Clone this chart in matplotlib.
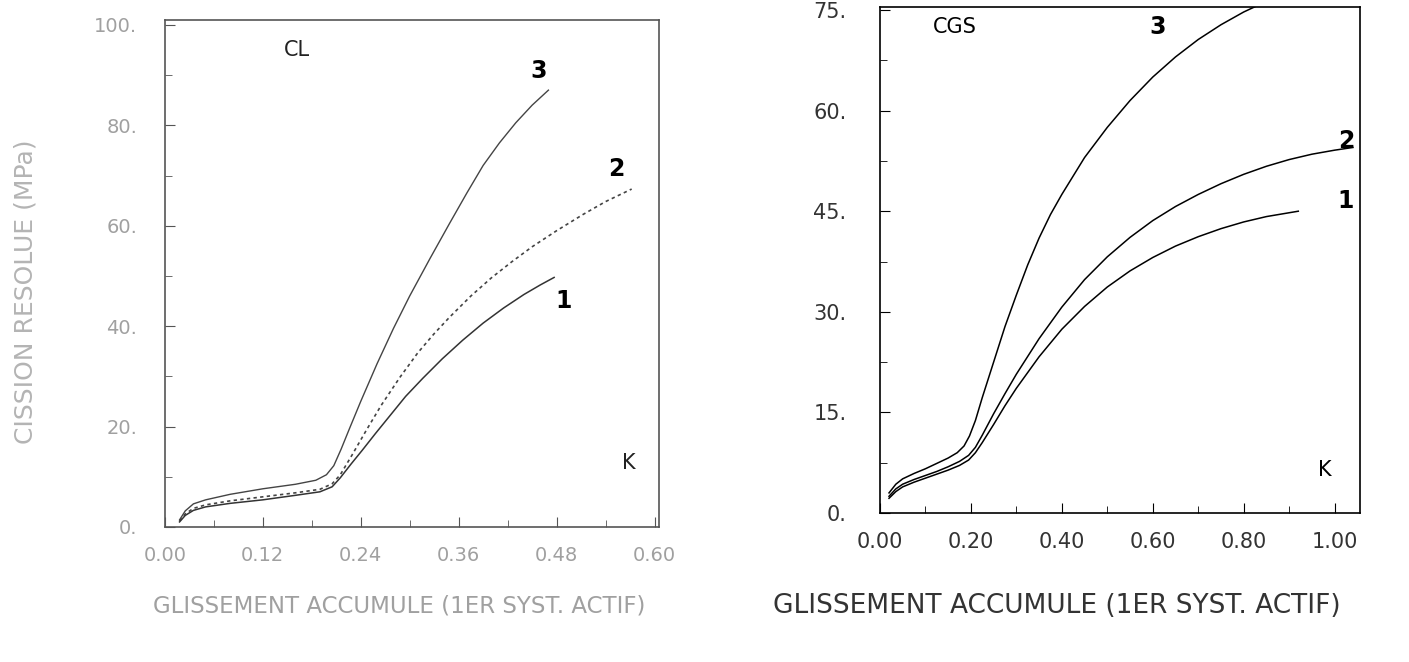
import matplotlib
matplotlib.use('Agg')
import matplotlib.pyplot as plt
from matplotlib.ticker import MultipleLocator, FixedLocator, FixedFormatter

plt.rcParams['font.family'] = ['DejaVu Sans']

# panneau gauche : CL
cl_x3 = [0.018, 0.025, 0.035, 0.05, 0.08, 0.12, 0.16, 0.185, 0.198, 0.207, 0.216, 0.226, 0.24,
         0.26, 0.28, 0.30, 0.325, 0.349, 0.37, 0.39, 0.41, 0.43, 0.45, 0.47]
cl_y3 = [1.4, 3.2, 4.6, 5.4, 6.5, 7.6, 8.5, 9.3, 10.4, 12.2, 15.5, 19.5, 25.0,
         32.5, 39.5, 46.0, 53.5, 60.5, 66.5, 72.0, 76.5, 80.5, 84.0, 87.0]
cl_x2 = [0.018, 0.025, 0.035, 0.05, 0.08, 0.12, 0.16, 0.19, 0.205, 0.215, 0.23, 0.247, 0.265,
         0.288, 0.31, 0.33, 0.349, 0.375, 0.40, 0.425, 0.45, 0.48, 0.512, 0.54, 0.572]
cl_y2 = [1.2, 2.6, 3.7, 4.4, 5.2, 6.0, 6.8, 7.5, 8.6, 10.4, 14.5, 19.3, 24.2,
         29.8, 34.7, 38.5, 41.8, 46.0, 49.6, 52.8, 55.8, 59.0, 62.2, 64.8, 67.3]
cl_x1 = [0.018, 0.025, 0.035, 0.05, 0.08, 0.12, 0.16, 0.19, 0.205, 0.215, 0.228, 0.242, 0.258,
         0.275, 0.295, 0.316, 0.34, 0.365, 0.39, 0.415, 0.44, 0.46, 0.477]
cl_y1 = [1.0, 2.3, 3.3, 4.0, 4.7, 5.4, 6.3, 7.0, 8.0, 9.8, 12.5, 15.3, 18.6,
         22.0, 26.0, 29.6, 33.5, 37.2, 40.6, 43.6, 46.3, 48.2, 49.7]
cl_xticks = [0.00, 0.12, 0.24, 0.36, 0.48, 0.60]
cl_xlabels = ['0.00', '0.12', '0.24', '0.36', '0.48', '0.60']
cl_yticks = [0, 20, 40, 60, 80, 100]
cl_ylabels = ['0.', '20.', '40.', '60.', '80.', '100.']

# panneau droit : CGS
cgs_x3 = [0.02, 0.035, 0.05, 0.075, 0.10, 0.125, 0.15, 0.17, 0.185, 0.197, 0.21, 0.225, 0.25,
          0.275, 0.30, 0.325, 0.35, 0.375, 0.40, 0.45, 0.50, 0.55, 0.60, 0.65, 0.70, 0.75, 0.80, 0.86]
cgs_y3 = [3.0, 4.3, 5.1, 5.9, 6.6, 7.4, 8.2, 9.0, 10.0, 11.5, 13.8, 17.2, 22.5,
          27.8, 32.5, 37.0, 41.0, 44.5, 47.5, 53.0, 57.5, 61.5, 65.0, 68.0, 70.6, 72.8, 74.7, 76.6]
cgs_x2 = [0.02, 0.035, 0.05, 0.075, 0.10, 0.125, 0.15, 0.175, 0.195, 0.21, 0.225, 0.25, 0.275,
          0.30, 0.35, 0.40, 0.45, 0.50, 0.55, 0.60, 0.65, 0.70, 0.75, 0.80, 0.85, 0.90, 0.95, 1.00, 1.04]
cgs_y2 = [2.5, 3.6, 4.3, 5.0, 5.6, 6.2, 6.9, 7.7, 8.6, 9.8, 11.6, 14.8, 17.8,
          20.7, 26.0, 30.7, 34.8, 38.2, 41.1, 43.6, 45.7, 47.5, 49.1, 50.5, 51.7, 52.7, 53.5, 54.1, 54.5]
cgs_x1 = [0.02, 0.035, 0.05, 0.075, 0.10, 0.125, 0.15, 0.175, 0.195, 0.21, 0.225, 0.25, 0.275,
          0.30, 0.35, 0.40, 0.45, 0.50, 0.55, 0.60, 0.65, 0.70, 0.75, 0.80, 0.85, 0.92]
cgs_y1 = [2.2, 3.2, 3.9, 4.6, 5.2, 5.8, 6.4, 7.1, 7.9, 9.0, 10.5, 13.2, 16.0,
          18.6, 23.3, 27.4, 30.8, 33.7, 36.1, 38.1, 39.8, 41.2, 42.4, 43.4, 44.2, 45.0]
cgs_xticks = [0.0, 0.2, 0.4, 0.6, 0.8, 1.0]
cgs_xlabels = ['0.00', '0.20', '0.40', '0.60', '0.80', '1.00']
cgs_yticks = [0, 15, 30, 45, 60, 75]
cgs_ylabels = ['0.', '15.', '30.', '45.', '60.', '75.']

xlabel = 'GLISSEMENT ACCUMULE (1ER SYST. ACTIF)'
ylabel = 'CISSION RESOLUE (MPa)'

fig = plt.figure(figsize=(14.09, 6.62), dpi=100)
ax1 = fig.add_axes([0.117, 0.204, 0.351, 0.766])
ax2 = fig.add_axes([0.6245, 0.225, 0.3405, 0.765])

gris = '#a0a0a0'
trait = '#333333'
chiffres = dict(fontsize=17, fontweight='bold', family=['Liberation Sans Narrow', 'DejaVu Sans'])

def habiller(ax, xt, xl, yt, yl, xmin, ymin, col, lcol, ypad, taille):
    for s in ax.spines.values():
        s.set_color(lcol)
        s.set_linewidth(1.2)
    ax.xaxis.set_major_locator(FixedLocator(xt))
    ax.xaxis.set_major_formatter(FixedFormatter(xl))
    ax.yaxis.set_major_locator(FixedLocator(yt))
    ax.yaxis.set_major_formatter(FixedFormatter(yl))
    ax.xaxis.set_minor_locator(MultipleLocator(xmin))
    ax.yaxis.set_minor_locator(MultipleLocator(ymin))
    ax.tick_params(which='both', direction='in', top=False, right=False,
                   color=lcol, labelsize=taille, labelcolor=col)
    ax.tick_params(which='major', length=7)
    ax.tick_params(which='minor', length=5)
    ax.tick_params(axis='x', which='major', pad=14)
    ax.tick_params(axis='y', which='major', pad=ypad)

# gauche
ax1.plot(cl_x3, cl_y3, color='#444444', lw=1.0)
ax1.plot(cl_x2, cl_y2, color='#444444', lw=1.2, ls=(0, (2, 2)))
ax1.plot(cl_x1, cl_y1, color='#333333', lw=1.1)
ax1.set_xlim(0, 0.606)
ax1.set_ylim(0, 101)
habiller(ax1, cl_xticks, cl_xlabels, cl_yticks, cl_ylabels, 0.06, 10, gris, '#555555', 20, 14)
ax1.text(0.162, 95, 'CL', fontsize=15, color='#222222', ha='center', va='center')
ax1.text(0.458, 88.5, '3', ha='center', va='bottom', **chiffres)
ax1.text(0.553, 69, '2', ha='center', va='bottom', **chiffres)
ax1.text(0.488, 45, '1', ha='center', va='center', **chiffres)
ax1.text(0.569, 12.7, 'K', fontsize=15, ha='center', va='center', color='#222222')
fig.text(0.018, 0.56, ylabel, rotation=90, fontsize=18, color='#b4b4b4', ha='center', va='center')
fig.text(0.283, 0.085, xlabel, fontsize=16.5, color=gris, ha='center', va='center')

# droite
ax2.plot(cgs_x3, cgs_y3, color='black', lw=1.1)
ax2.plot(cgs_x2, cgs_y2, color='black', lw=1.1)
ax2.plot(cgs_x1, cgs_y1, color='black', lw=1.1)
ax2.set_xlim(0, 1.055)
ax2.set_ylim(0, 75.5)
habiller(ax2, cgs_xticks, cgs_xlabels, cgs_yticks, cgs_ylabels, 0.1, 7.5, trait, 'black', 24, 15)
ax2.text(0.165, 72.5, 'CGS', fontsize=15, ha='center', va='center')
ax2.text(0.61, 72.5, '3', ha='center', va='center', **chiffres)
ax2.text(1.025, 55.5, '2', ha='center', va='center', **chiffres)
ax2.text(1.025, 46.5, '1', ha='center', va='center', **chiffres)
ax2.text(0.978, 6.4, 'K', fontsize=15, ha='center', va='center')
fig.text(0.75, 0.085, xlabel, fontsize=19, color=trait, ha='center', va='center')

fig.savefig('out.png', dpi=100, facecolor='white')
